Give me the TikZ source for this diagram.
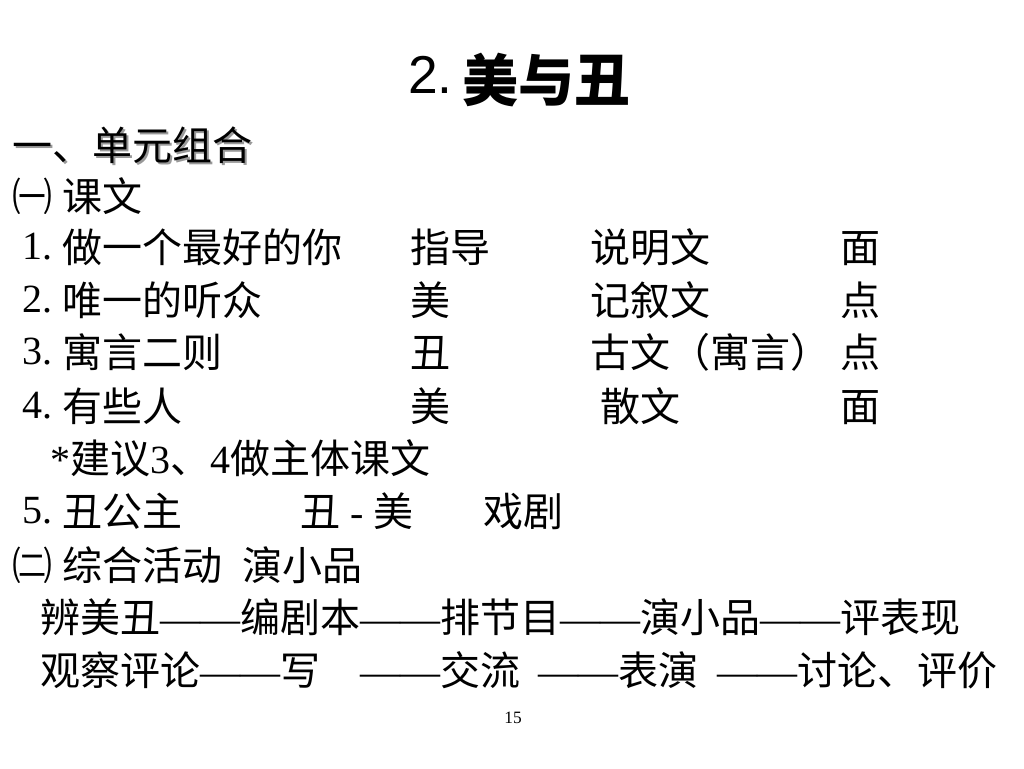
\documentclass[tikz,border=0pt]{standalone}
\usepackage{fontspec}
\setmainfont{Liberation Serif}
\newfontfamily\cjk{Noto Sans CJK SC}
\newfontfamily\tms{Liberation Serif}
\newfontfamily\arl{Liberation Sans}
\begin{document}
\begin{tikzpicture}[x=0.75pt,y=-0.75pt,
    txt/.style={anchor=base west,inner sep=0pt,font=\cjk\fontsize{30}{36}\selectfont},
    num/.style={anchor=base west,inner sep=0pt,font=\tms\fontsize{30}{36}\selectfont}]
    % Page
    \useasboundingbox (0,0) rectangle (1024,768);

    % Title
    \node[anchor=base west,inner sep=0pt,font=\arl\fontsize{40}{48}\selectfont] (titlenum) at (408,93) {2.};
    \node[anchor=base west,inner sep=0pt,font=\cjk\bfseries\fontsize{42}{50}\selectfont] (title) at (462,101) {美与丑};

    % Heading, with its shadow
    \node[txt,text=black!40] (headshadow) at (14.5,162.5) {一、单元组合};
    \node[txt] (head) at (12,160) {一、单元组合};

    % Texts
    \node[txt] (sub1) at (12,211) {㈠};
    \node[txt] (kewen) at (62,211) {课文};

    \node[num] (n1) at (22,259) {1.};
    \node[txt] (t1) at (62,262) {做一个最好的你};
    \node[txt] (a1) at (410,262) {指导};
    \node[txt] (b1) at (590,262) {说明文};
    \node[txt] (c1) at (840,262) {面};

    \node[num] (n2) at (22,312) {2.};
    \node[txt] (t2) at (62,315) {唯一的听众};
    \node[txt] (a2) at (410,315) {美};
    \node[txt] (b2) at (590,315) {记叙文};
    \node[txt] (c2) at (840,315) {点};

    \node[num] (n3) at (22,364) {3.};
    \node[txt] (t3) at (62,367) {寓言二则};
    \node[txt] (a3) at (410,367) {丑};
    \node[txt] (b3) at (590,367) {古文（寓言）};
    \node[txt] (c3) at (840,367) {点};

    \node[num] (n4) at (22,418) {4.};
    \node[txt] (t4) at (62,421) {有些人};
    \node[txt] (a4) at (410,421) {美};
    \node[txt] (b4) at (600,421) {散文};
    \node[txt] (c4) at (840,421) {面};

    \node[txt] (hint) at (50,473) {{\tms *}建议{\tms 3}、{\tms 4}做主体课文};

    \node[num] (n5) at (22,523) {5.};
    \node[txt] (t5) at (62,526) {丑公主};
    \node[txt] (a5) at (300,526) {丑{\tms{} - }美};
    \node[txt] (b5) at (483,526) {戏剧};

    % Activity
    \node[txt] (sub2) at (12,580) {㈡};
    \node[txt] (act) at (62,580) {综合活动};
    \node[txt] (play) at (242,580) {演小品};

    \node[txt] (steps) at (40,632) {辨美丑{\tms ——}编剧本{\tms ——}排节目{\tms ——}演小品{\tms ——}评表现};
    \node[txt] (tasks) at (40,685) {观察评论{\tms ——}写\hspace{30pt}{\tms ——}交流\hspace{14pt}{\tms ——}表演\hspace{14pt}{\tms ——}讨论、评价};

    \node[inner sep=0pt,font=\tms\fontsize{13}{15}\selectfont] (pagenum) at (513,718) {15};

\end{tikzpicture}
\end{document}
